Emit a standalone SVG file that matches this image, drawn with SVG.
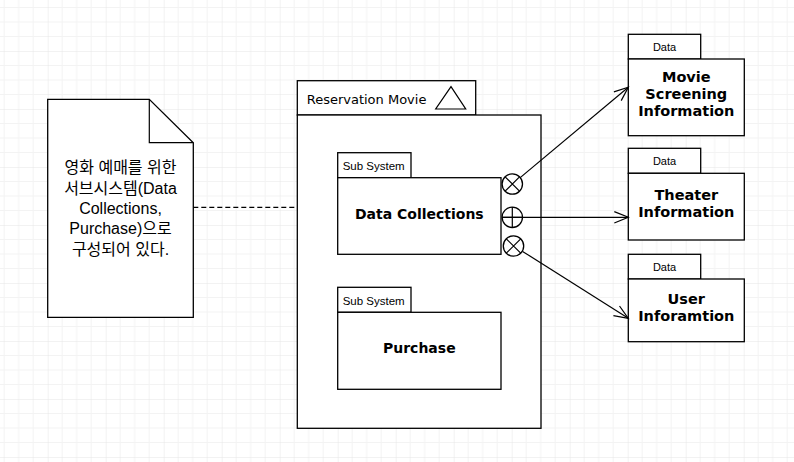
<svg xmlns="http://www.w3.org/2000/svg" width="794" height="462" viewBox="0 0 794 462">
<style>
.box{fill:#fff;stroke:#000;stroke-width:1.3}
.ln{fill:none;stroke:#000;stroke-width:1.2}
.title{font-family:"DejaVu Sans",Verdana,sans-serif;font-weight:bold;font-size:14px;text-anchor:middle;fill:#000}
.dtitle{font-family:"DejaVu Sans",Verdana,sans-serif;font-weight:bold;font-size:14.5px;text-anchor:middle;fill:#000}
.tab{font-family:"Liberation Sans",Arial,sans-serif;font-size:11.5px;fill:#000}
.dtab{font-family:"Liberation Sans",Arial,sans-serif;font-size:11px;text-anchor:middle;fill:#000}
.note{font-family:"Liberation Sans","Noto Sans CJK KR",sans-serif;font-size:16px;text-anchor:middle;fill:#000}
</style>
<defs>
<pattern id="grid" x="47.7" y="51" width="58" height="58" patternUnits="userSpaceOnUse">
<path d="M14.5 0V58M29 0V58M43.5 0V58M0 14.5H58M0 29H58M0 43.5H58" stroke="#f3f3f3" stroke-width="1" fill="none"/>
<path d="M0 0V58M0 0H58" stroke="#e5e5e5" stroke-width="1" fill="none"/>
</pattern>
<marker id="open" markerUnits="userSpaceOnUse" markerWidth="20" markerHeight="20" refX="0" refY="0" orient="auto" overflow="visible">
<path d="M-14,-5.7 L0,0 L-14,5.7" fill="none" stroke="#000" stroke-width="1.2"/>
</marker>
</defs>
<rect width="794" height="462" fill="#fff"/>
<rect width="794" height="462" fill="url(#grid)"/>

<g id="note">
<path class="box" d="M47.7 99.3H149.3L193.3 142.7V317.3H47.7Z"/>
<path class="ln" d="M149.3 99.3V142.7H193.3"/>
<text class="note" x="120.5" y="173.4">영화 예매를 위한</text>
<text class="note" x="120.5" y="193.7">서브시스템(Data</text>
<text class="note" x="120.5" y="214">Collections,</text>
<text class="note" x="120.5" y="234.3">Purchase)으로</text>
<text class="note" x="120.5" y="254.6">구성되어 있다.</text>
</g>

<g id="reservation-movie">
<rect class="box" x="297.3" y="80.7" width="178.4" height="34.3"/>
<rect class="box" x="297.3" y="115" width="243.7" height="313.3"/>
<text x="306.7" y="104" font-family="DejaVu Sans,Verdana,sans-serif" font-size="13px" fill="#000">Reservation Movie</text>
<path class="ln" d="M451 86.7L465.7 109H435.7Z"/>
</g>

<g id="data-collections">
<rect class="box" x="337.7" y="152.7" width="73.3" height="25"/>
<rect class="box" x="337.7" y="177.7" width="163.3" height="76.6"/>
<text class="tab" x="342.7" y="170">Sub System</text>
<text class="title" x="419.3" y="219">Data Collections</text>
</g>

<g id="ports">
<circle class="box" cx="512.3" cy="184" r="10.2"/>
<path class="ln" d="M505.1 176.8L519.5 191.2M519.5 176.8L505.1 191.2"/>
<circle class="box" cx="512.3" cy="217.3" r="10.2"/>
<path class="ln" d="M502.1 217.3H522.5M512.3 207.1V227.5"/>
<circle class="box" cx="513.5" cy="246" r="10.2"/>
<path class="ln" d="M506.3 238.8L520.7 253.2M520.7 238.8L506.3 253.2"/>
</g>

<g id="purchase">
<rect class="box" x="337.7" y="287.3" width="73.3" height="25"/>
<rect class="box" x="337.7" y="312.3" width="163.3" height="77"/>
<text class="tab" x="342.7" y="305">Sub System</text>
<text class="title" x="419.3" y="353">Purchase</text>
</g>

<g id="movie-screening">
<rect class="box" x="628.3" y="34.3" width="72.4" height="24.7"/>
<rect class="box" x="628.3" y="59" width="116" height="76.7"/>
<text class="dtab" x="664.5" y="50.7">Data</text>
<text class="dtitle" x="686.3" y="82.3">Movie</text>
<text class="dtitle" x="686.3" y="99.3">Screening</text>
<text class="dtitle" x="686.3" y="116.3">Information</text>
</g>

<g id="theater">
<rect class="box" x="628.3" y="148.3" width="72.4" height="25"/>
<rect class="box" x="628.3" y="173.3" width="116" height="66.7"/>
<text class="dtab" x="664.5" y="165">Data</text>
<text class="dtitle" x="686.3" y="200">Theater</text>
<text class="dtitle" x="686.3" y="217">Information</text>
</g>

<g id="user">
<rect class="box" x="628.3" y="254.3" width="72.4" height="24.7"/>
<rect class="box" x="628.3" y="279" width="116" height="62.7"/>
<text class="dtab" x="664.5" y="271">Data</text>
<text class="dtitle" x="686.3" y="304">User</text>
<text class="dtitle" x="686.3" y="321">Inforamtion</text>
</g>

<g id="connectors">
<path class="ln" d="M193.3 207.3H297" stroke-dasharray="5 3"/>
<path class="ln" d="M520.2 177.6L628.3 87.3" marker-end="url(#open)"/>
<path class="ln" d="M502 217.3H628.3" marker-end="url(#open)"/>
<path class="ln" d="M522.6 251.4L628.3 318.3" marker-end="url(#open)"/>
</g>
</svg>
